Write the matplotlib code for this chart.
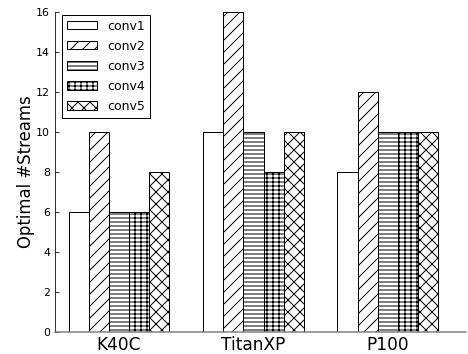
import matplotlib
matplotlib.use('Agg')
import matplotlib.pyplot as plt
import numpy as np

# data
gpus = ['K40C', 'TitanXP', 'P100']
layers = ['conv1', 'conv2', 'conv3', 'conv4', 'conv5']
conv1 = [6, 10, 8]
conv2 = [10, 16, 12]
conv3 = [6, 10, 10]
conv4 = [6, 8, 10]
conv5 = [8, 10, 10]
series = [conv1, conv2, conv3, conv4, conv5]
hatches = ['', '//', '---', '++-', 'xx']

fig = plt.figure(figsize=(6.5, 354 / 72), dpi=72)
ax = fig.add_axes([0.1175, 0.0621, 0.878, 0.904])

x = np.arange(len(gpus))
w = 0.15
for i, (vals, h) in enumerate(zip(series, hatches)):
    ax.bar(x + (i - 2) * w, vals, w, facecolor='white', edgecolor='black',
           linewidth=1, hatch=h, label=layers[i])

ax.set_xlim(-0.476, 2.58)
ax.set_ylim(0, 16)
ax.set_yticks(range(0, 17, 2))
ax.set_xticks(x)
ax.set_xticklabels(gpus, fontsize=17)
ax.tick_params(axis='x', length=0, pad=4)
ax.tick_params(axis='y', direction='in', length=4, labelsize=11, pad=5)
ax.set_ylabel('Optimal #Streams', fontsize=16.5, labelpad=1)

ax.spines['top'].set_visible(False)
ax.spines['right'].set_visible(False)
ax.spines['bottom'].set_color('#808080')
ax.spines['bottom'].set_linewidth(1.5)

leg = ax.legend(loc='upper left', bbox_to_anchor=(0.017, 0.992),
                borderaxespad=0, fontsize=12.5, fancybox=False,
                edgecolor='black', framealpha=1, handlelength=2.4,
                handleheight=0.65, handletextpad=0.8, labelspacing=0.57)
leg.get_frame().set_linewidth(1)

fig.savefig('out.png', dpi=72)
